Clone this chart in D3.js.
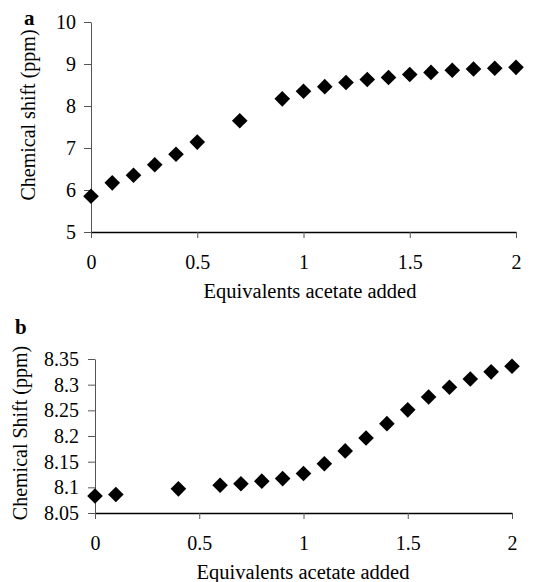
<!DOCTYPE html>
<html><head><meta charset="utf-8">
<script src="https://cdn.jsdelivr.net/npm/d3@7"></script>
<style>body{margin:0;background:#fff}svg{display:block}</style>
</head><body>
<svg id="c" width="533" height="582"></svg>
<script>
const xTicks = [0, 0.5, 1, 1.5, 2];
const aX = [0,0.1,0.2,0.3,0.4,0.5,0.7,0.9,1.0,1.1,1.2,1.3,1.4,1.5,1.6,1.7,1.8,1.9,2.0];
const aY = [5.85,6.17,6.35,6.60,6.85,7.14,7.65,8.17,8.35,8.46,8.56,8.63,8.68,8.75,8.80,8.85,8.88,8.90,8.92];
const aTicks = [5,6,7,8,9,10];
const bX = [0,0.1,0.4,0.6,0.7,0.8,0.9,1.0,1.1,1.2,1.3,1.4,1.5,1.6,1.7,1.8,1.9,2.0];
const bY = [8.083,8.086,8.097,8.104,8.107,8.112,8.117,8.127,8.146,8.171,8.196,8.224,8.251,8.276,8.295,8.311,8.325,8.336];
const bTicks = [8.05,8.1,8.15,8.2,8.25,8.3,8.35];

const FF = "Liberation Serif";
const svg = d3.select("#c");
const diamond = d3.symbol().type(d3.symbolSquare).size(122);

function panel(o){
  const g = svg.append("g");
  const x = d3.scaleLinear().domain([0,2]).range([o.x0,o.x1]);
  const y = d3.scaleLinear().domain(o.dom).range([o.y1,o.y0]);
  const xa = g.append("g").attr("transform",`translate(0,${o.y1})`)
    .call(d3.axisBottom(x).tickValues(xTicks).tickFormat(d3.format("")).tickSize(6).tickPadding(17).tickSizeOuter(0));
  xa.attr("font-family",FF).attr("font-size",20);
  xa.select(".domain").attr("stroke","#000").attr("stroke-width",1.3);
  xa.selectAll(".tick line").attr("stroke","#555");
  xa.selectAll("text").attr("fill","#000");
  const ya = g.append("g").attr("transform",`translate(${o.x0},0)`)
    .call(d3.axisLeft(y).tickValues(o.ticks).tickFormat(o.fmt).tickSize(7).tickPadding(o.pad).tickSizeOuter(0));
  ya.attr("font-family",FF).attr("font-size",20);
  ya.select(".domain").attr("stroke","#555").attr("stroke-width",1);
  ya.selectAll(".tick line").attr("stroke","#555");
  ya.selectAll("text").attr("fill","#000");
  g.selectAll("path.pt").data(o.xs).join("path").attr("class","pt")
    .attr("d",diamond)
    .attr("transform",(d,i)=>`translate(${x(d)},${y(o.ys[i])}) rotate(45)`)
    .attr("fill","#000");
  g.append("text").attr("x",o.tx).attr("y",o.titleY).attr("text-anchor","middle")
    .attr("font-family",FF).attr("font-size",20.5).text("Equivalents acetate added");
  g.append("text").attr("transform",`translate(${o.ylx},${o.yly}) rotate(-90)`).attr("text-anchor","middle")
    .attr("font-family",FF).attr("font-size",20).text(o.ylabel);
  g.append("text").attr("x",o.lx).attr("y",o.ly).attr("font-family",FF).attr("font-size",21).attr("font-weight","bold").text(o.letter);
}

panel({x0:91,x1:516,y0:22,y1:232,dom:[5,10],ticks:aTicks,fmt:d3.format("d"),pad:8,xs:aX,ys:aY,
  tx:310,titleY:298,ylx:35,yly:115,ylabel:"Chemical shift (ppm)",letter:"a",lx:24,ly:25});
panel({x0:95,x1:512,y0:359,y1:513,dom:[8.05,8.35],ticks:bTicks,fmt:d=>String(+d.toFixed(2)),pad:9,xs:bX,ys:bY,
  tx:303,titleY:579,ylx:27,yly:433,ylabel:"Chemical Shift (ppm)",letter:"b",lx:15,ly:334});
</script>
</body></html>
